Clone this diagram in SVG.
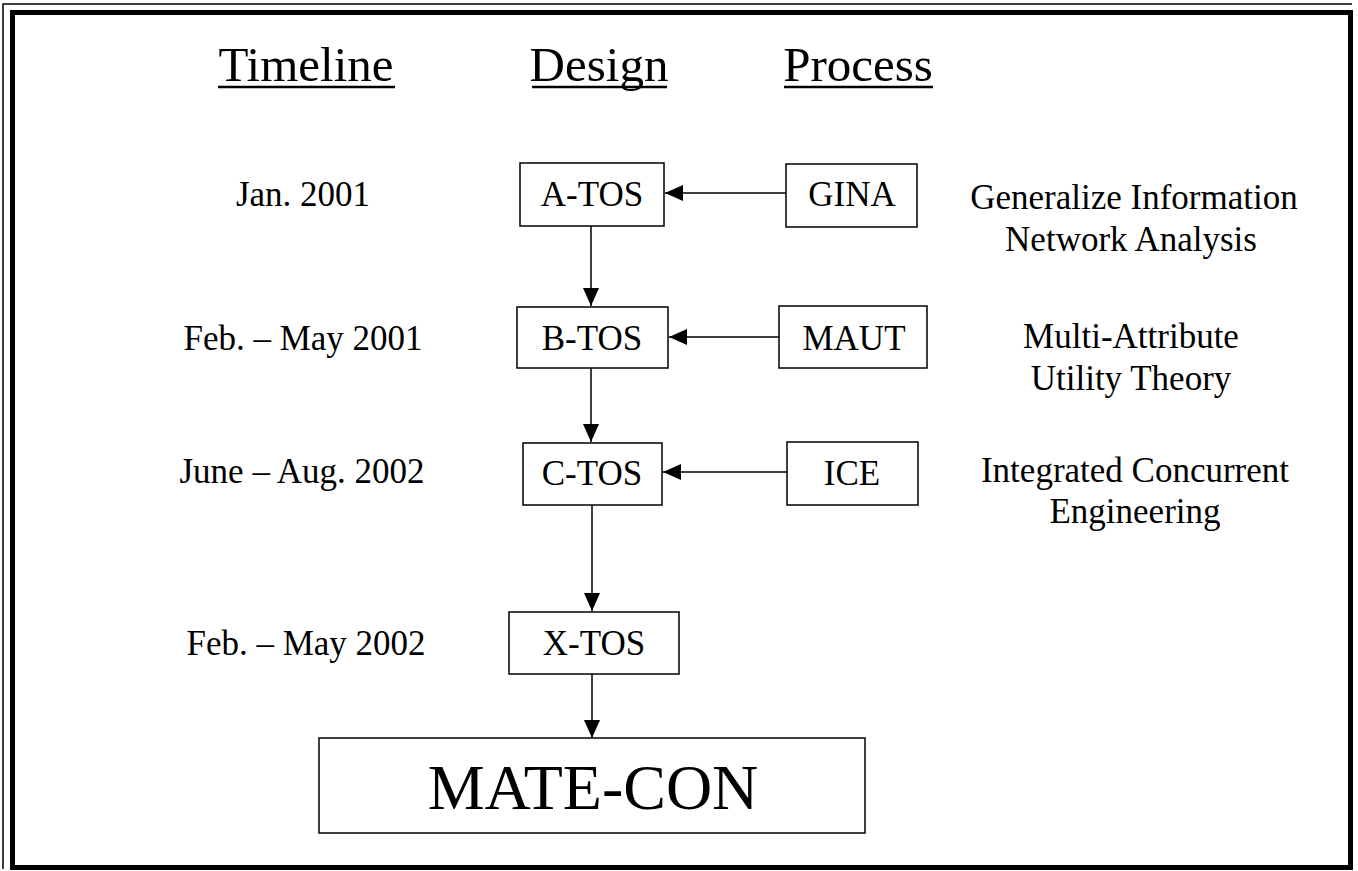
<svg xmlns="http://www.w3.org/2000/svg" width="1358" height="871" viewBox="0 0 1358 871">
  <style>
    .t { font-family: "Liberation Serif", "Times New Roman", serif; fill: #000; text-anchor: middle; }
    .hd { font-size: 49px; }
    .lb { font-size: 35px; }
    .big { font-size: 64px; }
    .box { fill: #fff; stroke: #000; stroke-width: 1.5; }
    .edge { fill: none; stroke: #000; stroke-width: 1.5; }
    .ul { stroke: #000; stroke-width: 2.5; }
  </style>
  <defs>
    <marker id="arrow" markerWidth="18" markerHeight="16" refX="18" refY="8" orient="auto" markerUnits="userSpaceOnUse">
      <path d="M0,0 L18,8 L0,16 Z" fill="#000"/>
    </marker>
  </defs>

  <rect width="1358" height="871" fill="#fff"/>

  <!-- page frame -->
  <g id="frame">
    <path d="M3,869 L3,4 L1352,4" fill="none" stroke="#000" stroke-width="1.5"/>
    <rect x="12.5" y="12.5" width="1338" height="855" fill="none" stroke="#000" stroke-width="5"/>
  </g>

  <!-- column headings -->
  <g id="headings">
    <text class="t hd" x="306" y="81">Timeline</text>
    <line class="ul" x1="218" y1="87" x2="395" y2="87"/>
    <text class="t hd" x="599" y="81">Design</text>
    <line class="ul" x1="532" y1="87" x2="667" y2="87"/>
    <text class="t hd" x="858" y="81">Process</text>
    <line class="ul" x1="784" y1="87" x2="933" y2="87"/>
  </g>

  <!-- timeline dates -->
  <g id="dates">
    <text class="t lb" x="303" y="206">Jan. 2001</text>
    <text class="t lb" x="303" y="350">Feb. – May 2001</text>
    <text class="t lb" x="302" y="483">June – Aug. 2002</text>
    <text class="t lb" x="306" y="655">Feb. – May 2002</text>
  </g>

  <!-- process descriptions -->
  <g id="descriptions">
    <text class="t lb" x="1134" y="209">Generalize Information</text>
    <text class="t lb" x="1131" y="251">Network Analysis</text>
    <text class="t lb" x="1131" y="348">Multi-Attribute</text>
    <text class="t lb" x="1131" y="390">Utility Theory</text>
    <text class="t lb" x="1135" y="482">Integrated Concurrent</text>
    <text class="t lb" x="1135" y="523">Engineering</text>
  </g>

  <!-- connectors -->
  <g id="connectors">
    <line class="edge" x1="786" y1="193" x2="665" y2="193" marker-end="url(#arrow)"/>
    <line class="edge" x1="779" y1="337" x2="669" y2="337" marker-end="url(#arrow)"/>
    <line class="edge" x1="787" y1="472" x2="663" y2="472" marker-end="url(#arrow)"/>
    <line class="edge" x1="591" y1="226" x2="591" y2="306" marker-end="url(#arrow)"/>
    <line class="edge" x1="591" y1="368" x2="591" y2="442" marker-end="url(#arrow)"/>
    <line class="edge" x1="592" y1="505" x2="592" y2="611" marker-end="url(#arrow)"/>
    <line class="edge" x1="592" y1="674" x2="592" y2="738" marker-end="url(#arrow)"/>
  </g>

  <!-- design nodes -->
  <g id="a-tos">
    <rect class="box" x="520" y="163" width="144" height="63"/>
    <text class="t lb" x="592" y="206">A-TOS</text>
  </g>
  <g id="b-tos">
    <rect class="box" x="517" y="307" width="151" height="61"/>
    <text class="t lb" x="592" y="350">B-TOS</text>
  </g>
  <g id="c-tos">
    <rect class="box" x="523" y="443" width="139" height="62"/>
    <text class="t lb" x="592" y="485">C-TOS</text>
  </g>
  <g id="x-tos">
    <rect class="box" x="509" y="612" width="170" height="62"/>
    <text class="t lb" x="594" y="655">X-TOS</text>
  </g>

  <!-- process nodes -->
  <g id="gina">
    <rect class="box" x="786" y="164" width="131" height="63"/>
    <text class="t lb" x="852" y="206">GINA</text>
  </g>
  <g id="maut">
    <rect class="box" x="779" y="306" width="148" height="62"/>
    <text class="t lb" x="854" y="350">MAUT</text>
  </g>
  <g id="ice">
    <rect class="box" x="787" y="442" width="131" height="63"/>
    <text class="t lb" x="852" y="485">ICE</text>
  </g>

  <!-- result -->
  <g id="mate-con">
    <rect class="box" x="319" y="738" width="546" height="95"/>
    <text class="t big" x="593" y="809">MATE-CON</text>
  </g>
</svg>
